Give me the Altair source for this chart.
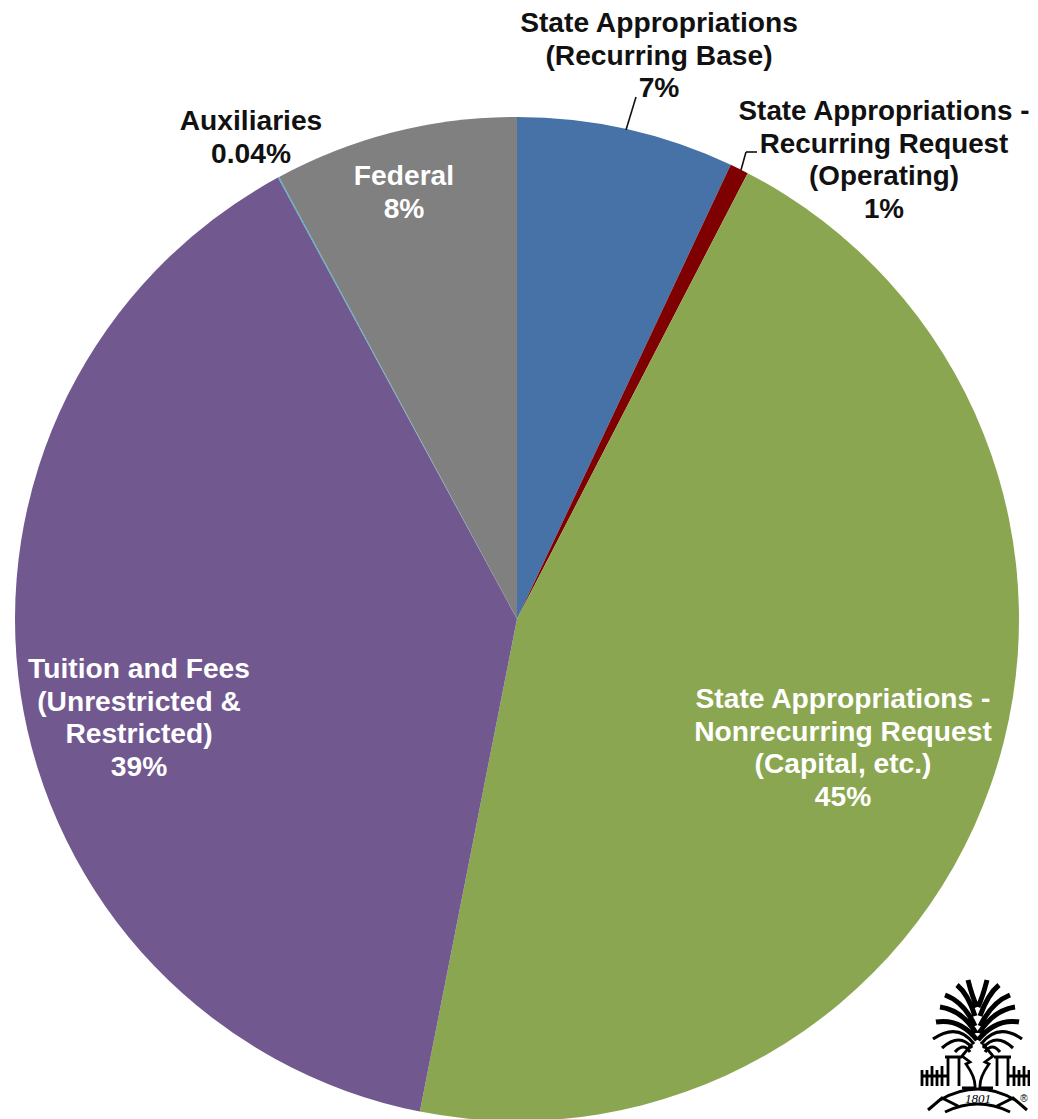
import altair as alt
import pandas as pd

categories = ["State Appropriations (Recurring Base)", "State Appropriations - Recurring Request (Operating)",
              "State Appropriations - Nonrecurring Request (Capital, etc.)", "Tuition and Fees (Unrestricted & Restricted)",
              "Auxiliaries", "Federal"]
shares = [7.0, 0.6, 45.5, 39.0, 0.04, 7.86]
colors = ["#4672A8", "#7F0000", "#8BA650", "#71588F", "#4BACC6", "#808080"]

df = pd.DataFrame({"cat": categories, "share": shares, "i": range(len(categories))})
CX, CY, R = 509, 611, 502

pie = alt.Chart(df).mark_arc(outerRadius=R).encode(
    theta=alt.Theta("share:Q", stack=True),
    order=alt.Order("i:Q"),
    color=alt.Color("cat:N", scale=alt.Scale(domain=categories, range=colors), legend=None),
    x=alt.value(CX), y=alt.value(CY),
)

def label(text, x, y, color, size=28.2):
    return alt.Chart(pd.DataFrame({"t": [text]})).mark_text(
        font="Liberation Sans", fontWeight="bold", fontSize=size, lineBreak="\n", lineHeight=32.6,
        align="center", baseline="middle", color=color,
    ).encode(text="t:N", x=alt.value(x), y=alt.value(y))

labels = [
    label("State Appropriations\n(Recurring Base)\n7%", 651, 16, "#111111"),
    label("State Appropriations -\nRecurring Request\n(Operating)\n1%", 876, 104, "#111111", 27.8),
    label("Auxiliaries\n0.04%", 243, 114, "#111111"),
    label("Federal\n8%", 396, 169, "#ffffff"),
    label("State Appropriations -\nNonrecurring Request\n(Capital, etc.)\n45%", 835, 692, "#ffffff"),
    label("Tuition and Fees\n(Unrestricted &\nRestricted)\n39%", 131, 662, "#ffffff"),
]

def rule(x1, y1, x2, y2):
    return alt.Chart(pd.DataFrame({"a": [0]})).mark_rule(color="#111111", strokeWidth=1.6).encode(
        x=alt.value(x1), y=alt.value(y1), x2=alt.value(x2), y2=alt.value(y2))

leaders = [rule(618, 122, 628, 89), rule(733, 162, 738, 144), rule(738, 144, 749, 144)]

# University logo: strokes sketched in a local pixel frame
fronds = (
    "M68 20Q72 36 77 47 M87 20Q83 36 78 47 "
    "M57 25Q68 34 75 56 M99 25Q88 34 80 56 "
    "M45 35Q64 42 75 66 M110 35Q92 42 80 66 "
    "M40 47Q62 50 76 73 M115 47Q94 50 79 73 "
    "M36 62Q60 58 77 80 M119 62Q96 58 78 80 "
)
lower = (
    "M33 79Q58 62 74 84 M122 79Q98 62 81 84 "
    "M42 88Q60 72 72 88 M113 88Q96 72 83 88 "
    "M55 92Q64 82 70 92 M100 92Q92 82 85 92 "
)
gate = (
    "M72 84L62 96L70 102L66 104Q76 118 75 128L72 128 M83 84L93 96L85 102L89 104Q79 118 80 128L83 128 "
    "M45 97H62 M94 97H111 M48 97V126 M59 97V126 M97 97V126 M108 97V126 "
    "M22 116H48 M108 116H134 M22 110V126 M27 110V126 M32 106V126 M37 110V126 M42 106V126 "
    "M114 106V126 M119 110V126 M124 106V126 M129 110V126 M134 110V126 "
    "M62 128H72 M83 128H93"
)
ribbon = "M28 150L42 138L58 146 M127 150L113 138L97 146 M40 140Q78 118 115 140 M45 152Q78 136 110 152"

def logo(path, width):
    return alt.Chart(pd.DataFrame({"a": [0]})).mark_point(
        shape=path, size=4, filled=False, stroke="#000000", strokeWidth=width, opacity=1,
    ).encode(x=alt.value(892), y=alt.value(952))

logos = [logo(fronds, 5.0), logo(lower, 3.2), logo(gate, 2.8), logo(ribbon, 3.0)]

def small(text, size, x, y, font, italic=False):
    return alt.Chart(pd.DataFrame({"t": [text]})).mark_text(
        font=font, fontSize=size, color="#000000", align="center", baseline="middle",
        fontStyle="italic" if italic else "normal",
    ).encode(text="t:N", x=alt.value(x), y=alt.value(y))

marks = [small("1801", 13, 970, 1091, "Liberation Serif", True), small("®", 10, 1016, 1091, "Liberation Sans")]

chart = alt.layer(pie, *labels, *leaders, *logos, *marks).properties(
    width=1022, height=1111, padding=0, background="#ffffff", autosize=alt.AutoSizeParams(type="none"),
).configure_view(stroke=None)

chart.save("out.html", embed_options={"renderer": "svg", "actions": False})
